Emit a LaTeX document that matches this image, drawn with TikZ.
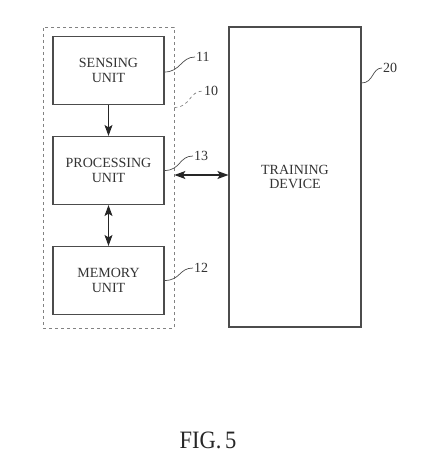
\documentclass[tikz,border=0pt]{standalone}
\usepackage{fontspec}
\setmainfont{Liberation Serif}
\usetikzlibrary{positioning,calc,arrows.meta}
\definecolor{inkgray}{gray}{0.3}
\definecolor{textgray}{gray}{0.2}

\begin{document}
\begin{tikzpicture}[x=1pt,y=-1pt,
    tip/.tip={Stealth[length=11pt,width=8pt,inset=2.5pt]},
    unit/.style={draw=inkgray,line width=1.1pt,text=textgray,align=center,font=\fontsize{14}{14.5}\selectfont,minimum width=111pt,minimum height=68pt,inner sep=0pt},
    refnum/.style={text=textgray,font=\fontsize{14}{14}\selectfont,anchor=west,inner sep=1pt},
    lead/.style={draw=inkgray,line width=0.7pt},
    link/.style={draw=black!85,line width=1.1pt,-tip},
    bilink/.style={draw=black!85,line width=1.1pt,tip-tip}]
    \useasboundingbox (0,0) rectangle (423,473);
	  \node[draw=inkgray!70,dashed,line width=0.8pt,minimum width=131pt,minimum height=301pt] (dev) at (108.5,177.5) {};
    \node[unit] (sens) at (108.5,70.5) {SENSING\\UNIT};
    \node[unit] (proc) at (108.5,170.5) {PROCESSING\\UNIT};
    \node[unit] (mem) at (108.5,280.5) {MEMORY\\UNIT};
    \node[unit,minimum width=132pt,minimum height=300pt] (train) at (295,177) {TRAINING\\DEVICE};
		\draw[link] (sens) -- (proc);
		\draw[bilink] (proc) -- (mem);
		\draw[bilink] ($(dev.east|-proc.east)+(0,4.5)$) -- ($(train.west|-proc.east)+(0,4.5)$);
    % reference numerals
    \node[refnum] (n11) at (195,57) {11};
    \node[refnum] (n10) at (203,91) {10};
    \node[refnum] (n13) at (193,156) {13};
    \node[refnum] (n12) at (193,268) {12};
    \node[refnum] (n20) at (382,68) {20};
    \draw[lead] ($(sens.east)+(0,1.5)$) .. controls +(16,0) and +(-14,0) .. (n11.west);
    \draw[lead,dashed,draw=inkgray!70] ($(dev.east)+(0,-70)$) .. controls +(16,0) and +(-14,0) .. (n10.west);
    \draw[lead] (proc.east) .. controls +(16,0) and +(-14,0) .. (n13.west);
    \draw[lead] (mem.east) .. controls +(16,0) and +(-14,0) .. (n12.west);
    \draw[lead] ($(train.east)+(0,-94)$) .. controls +(12,0) and +(-10,0) .. (n20.west);
    \node[text=black!85,font=\fontsize{25}{26}\selectfont,xscale=0.9,transform shape] (fig) at (208,440) {FIG.\,5};
\end{tikzpicture}
\end{document}
